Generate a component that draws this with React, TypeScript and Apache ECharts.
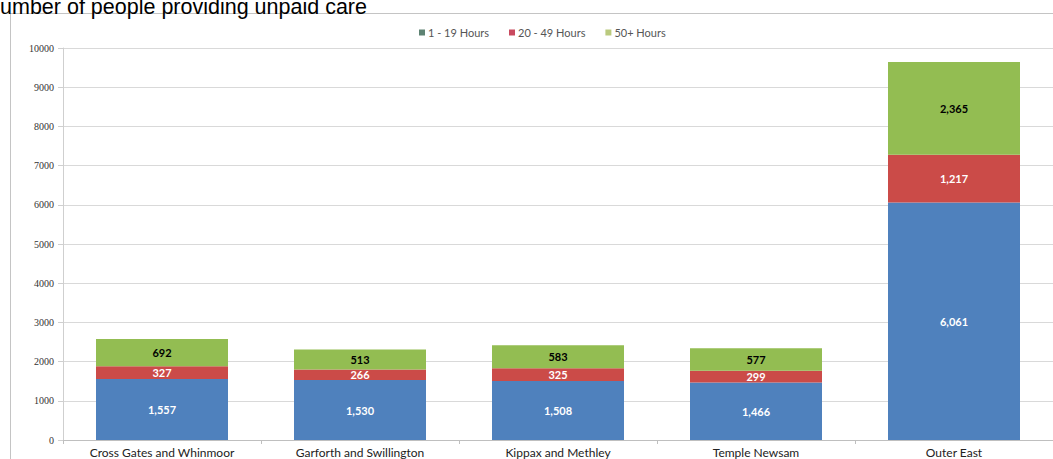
import React, { useEffect, useRef } from "react";
import * as echarts from "echarts";

const categories = [
  "Cross Gates and Whinmoor",
  "Garforth and Swillington",
  "Kippax and Methley",
  "Temple Newsam",
  "Outer East",
];
const seriesNames = ["1 - 19 Hours", "20 - 49 Hours", "50+ Hours"];
const hours1to19 = [1557, 1530, 1508, 1466, 6061];
const hours20to49 = [327, 266, 325, 299, 1217];
const hours50plus = [692, 513, 583, 577, 2365];
const yTicks = { min: 0, max: 10000, interval: 1000 };
const titleText = "Number of people providing unpaid care";

const barColors = ["#4F81BD", "#CB4B48", "#93BD52"];
const legendColors = ["#5E8373", "#C94A5F", "#BACA7E"];
const labelColors = ["#ffffff", "#ffffff", "#000000"];

export default function App() {
  const ref = useRef<HTMLDivElement>(null);
  useEffect(() => {
    if (!ref.current) return;
    const chart = echarts.init(ref.current, undefined, { renderer: "svg" });
    const data = [hours1to19, hours20to49, hours50plus];
    const fmt = (v: number) => v.toLocaleString("en-US");
    chart.setOption({
      animation: false,
      backgroundColor: "#ffffff",
      graphic: [
        {
          type: "rect",
          shape: { x: 10.5, y: 13.5, width: 1100, height: 500 },
          style: { fill: "none", stroke: "#c4c4c4", lineWidth: 1 },
          z: -1,
        },
        {
          type: "text",
          x: -15.5,
          y: 6.5,
          style: {
            text: titleText,
            font: "21.5px 'Liberation Sans', Arial, sans-serif",
            fill: "#000000",
            verticalAlign: "middle",
          },
        },
      ],
      legend: {
        top: 22,
        left: 414,
        itemWidth: 6,
        itemHeight: 6,
        itemGap: 20,
        icon: "rect",
        textStyle: { fontFamily: "Lato, 'Open Sans', sans-serif", fontSize: 11, color: "#555555", padding: [0, 0, 0, -2] },
        data: seriesNames.map((n, i) => ({ name: n, itemStyle: { color: legendColors[i] } })),
      },
      grid: { left: 63, right: -2, top: 48, bottom: 19, containLabel: false },
      xAxis: {
        type: "category",
        data: categories,
        axisLine: { lineStyle: { color: "#bfbfbf" } },
        axisTick: { show: true, length: 4, lineStyle: { color: "#bfbfbf" } },
        axisLabel: {
          fontFamily: "Lato, 'Open Sans', sans-serif",
          fontSize: 12,
          color: "#222222",
          margin: 6,
        },
      },
      yAxis: {
        type: "value",
        min: yTicks.min,
        max: yTicks.max,
        interval: yTicks.interval,
        axisLine: { show: true, lineStyle: { color: "#cfcfcf" } },
        axisTick: { show: true, length: 5, lineStyle: { color: "#cfcfcf" } },
        axisLabel: {
          fontFamily: "'Liberation Serif', 'DejaVu Serif', serif",
          fontSize: 10,
          color: "#333333",
          margin: 9,
          formatter: (v: number) => String(v),
        },
        splitLine: { lineStyle: { color: "#d9d9d9" } },
      },
      series: seriesNames.map((name, i) => ({
        name,
        type: "bar",
        stack: "total",
        barWidth: 132,
        data: data[i],
        itemStyle: { color: barColors[i] },
        label: {
          show: true,
          position: "inside",
          formatter: (p: any) => fmt(p.value),
          color: labelColors[i],
          fontFamily: "Lato, 'Open Sans', sans-serif",
          fontWeight: "bold",
          fontSize: 11,
        },
      })),
    });
    return () => chart.dispose();
  }, []);
  return (
    <div
      ref={ref}
      style={{ position: "fixed", left: 0, top: 0, width: 1053, height: 459, background: "#fff" }}
    />
  );
}
